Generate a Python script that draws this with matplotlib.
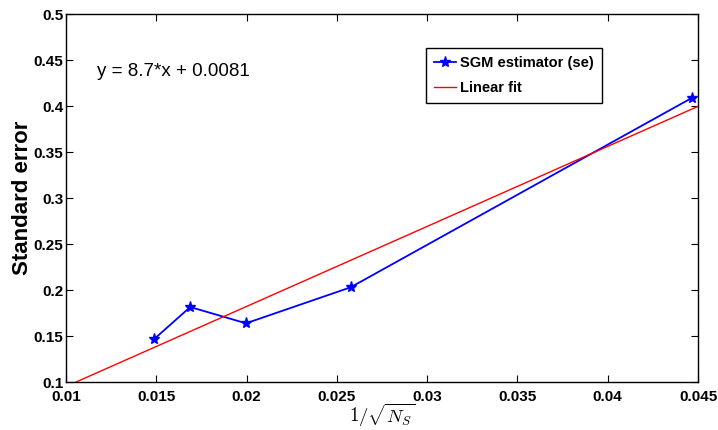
import matplotlib
matplotlib.use("Agg")
import matplotlib.pyplot as plt

# values
x_se = [0.01487, 0.01688, 0.01997, 0.02576, 0.04468]
y_se = [0.1464, 0.1815, 0.1638, 0.2029, 0.409]

fit_x = [0.01, 0.045]
fit_y = [0.0951, 0.3996]

x_ticks = [0.01, 0.015, 0.02, 0.025, 0.03, 0.035, 0.04, 0.045]
x_tick_labels = ["0.01", "0.015", "0.02", "0.025", "0.03", "0.035", "0.04", "0.045"]
y_ticks = [0.1, 0.15, 0.2, 0.25, 0.3, 0.35, 0.4, 0.45, 0.5]
y_tick_labels = ["0.1", "0.15", "0.2", "0.25", "0.3", "0.35", "0.4", "0.45", "0.5"]

plt.rcParams["font.family"] = ["Liberation Sans", "DejaVu Sans"]
plt.rcParams["mathtext.fontset"] = "cm"


def main():
    fig = plt.figure(figsize=(7.18, 4.30), dpi=100)
    ax = fig.add_axes([66 / 718, 1 - 382 / 430, 632 / 718, 368 / 430])

    ax.plot(x_se, y_se, color="blue", marker="*", markersize=8, linewidth=1.3,
            label="SGM estimator (se)")
    ax.plot(fit_x, fit_y, color="red", linewidth=1.0, label="Linear fit")

    ax.set_xlim(0.01, 0.045)
    ax.set_ylim(0.1, 0.5)
    ax.set_xticks(x_ticks)
    ax.set_xticklabels(x_tick_labels)
    ax.set_yticks(y_ticks)
    ax.set_yticklabels(y_tick_labels)
    ax.tick_params(direction="in", top=True, right=True, length=5, width=0.8,
                   labelsize=11, pad=2)
    ax.tick_params(axis="x", pad=6)
    for lbl in ax.get_xticklabels() + ax.get_yticklabels():
        lbl.set_fontweight("bold")
    for sp in ax.spines.values():
        sp.set_linewidth(1.0)

    ax.set_ylabel("Standard error", fontsize=16, fontweight="bold", labelpad=0)
    ax.set_xlabel(r"$1/\sqrt{N_S}$", fontsize=13.5, labelpad=-2)

    ax.text(0.01172, 0.437, "y = 8.7*x + 0.0081", fontsize=13.5, va="center", ha="left")

    leg = ax.legend(loc="upper left", bbox_to_anchor=((426 - 66) / 632, 1 - (48 - 14) / 368),
                    fancybox=False, edgecolor="black", framealpha=1,
                    prop={"weight": "bold", "size": 10.5},
                    handlelength=1.5, handletextpad=0.3, borderpad=0.55,
                    labelspacing=0.75, borderaxespad=0)
    leg.get_frame().set_linewidth(1.0)

    fig.savefig("out.png", dpi=100)


if __name__ == "__main__":
    main()
